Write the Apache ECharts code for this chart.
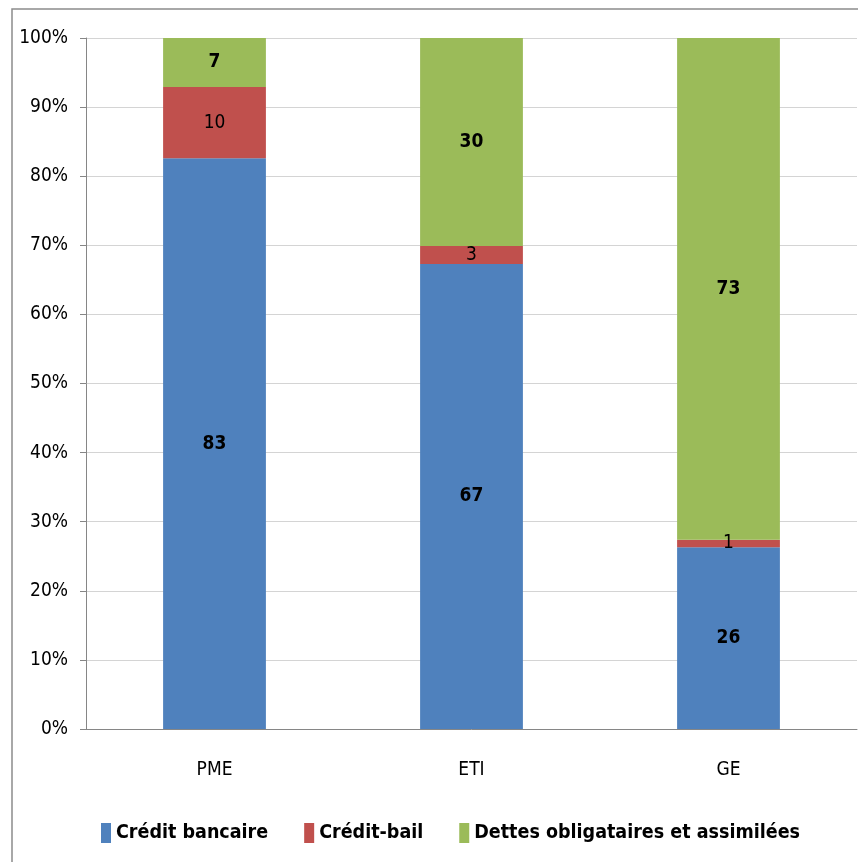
<!DOCTYPE html>
<html>
<head>
<meta charset="utf-8">
<script src="https://cdn.jsdelivr.net/npm/echarts@6/dist/echarts.min.js"></script>
<style>
  html, body { margin: 0; padding: 0; background: #fff; }
  #echart1 { width: 858px; height: 862px; }
</style>
</head>
<body>
<div id="echart1"></div>
<script>
// données (parts en %)
const categories = ['PME', 'ETI', 'GE'];
const creditBancaire = [82.6, 67.3, 26.3];
const creditBail = [10.3, 2.6, 1.1];
const dettesOblig = [7.1, 30.1, 72.6];
const yTicks = [0, 10, 20, 30, 40, 50, 60, 70, 80, 90, 100];

const font = "'DejaVu Sans Condensed', 'Liberation Sans Narrow', sans-serif";

let myChart = echarts.init(document.getElementById('echart1'));

function lbl(bold) {
  return {
    show: true,
    position: 'inside',
    color: '#000',
    fontFamily: font,
    fontSize: 19,
    fontWeight: bold ? 'bold' : 'normal',
    formatter: p => Math.round(p.value)
  };
}

myChart.setOption({
  animation: false,
  graphic: [{
    type: 'rect',
    shape: { x: 12, y: 9, width: 1000, height: 1000 },
    style: { fill: 'none', stroke: '#8c8c8c', lineWidth: 1.5 }
  }],
  grid: { left: 86, right: 1, top: 38, bottom: 133 },
  legend: {
    data: ['Crédit bancaire', 'Crédit-bail', 'Dettes obligataires et assimilées'],
    left: 96,
    top: 818,
    width: 760,
    itemWidth: 10,
    itemHeight: 20,
    itemGap: 36,
    icon: 'rect',
    textStyle: { fontFamily: font, fontSize: 19.5, fontWeight: 'bold', color: '#000' }
  },
  xAxis: {
    type: 'category',
    data: categories,
    axisLine: { lineStyle: { color: '#868686' } },
    axisTick: { length: 6, lineStyle: { color: '#868686' } },
    axisLabel: { margin: 32, fontFamily: font, fontSize: 19, color: '#000' }
  },
  yAxis: {
    type: 'value',
    min: 0,
    max: 100,
    interval: 10,
    axisLine: { show: true, lineStyle: { color: '#868686' } },
    axisTick: { show: true, length: 6, lineStyle: { color: '#868686' } },
    splitLine: { lineStyle: { color: '#d4d4d4' } },
    axisLabel: {
      margin: 18,
      fontFamily: font,
      fontSize: 19,
      color: '#000',
      formatter: v => yTicks.includes(v) ? v + '%' : ''
    }
  },
  series: [
    {
      name: 'Crédit bancaire',
      type: 'bar',
      stack: 'total',
      barWidth: '40%',
      data: creditBancaire,
      itemStyle: { color: '#4f81bd' },
      label: lbl(true)
    },
    {
      name: 'Crédit-bail',
      type: 'bar',
      stack: 'total',
      data: creditBail,
      itemStyle: { color: '#c0504d' },
      label: lbl(false)
    },
    {
      name: 'Dettes obligataires et assimilées',
      type: 'bar',
      stack: 'total',
      data: dettesOblig,
      itemStyle: { color: '#9bbb59' },
      label: lbl(true)
    }
  ]
});
</script>
</body>
</html>
